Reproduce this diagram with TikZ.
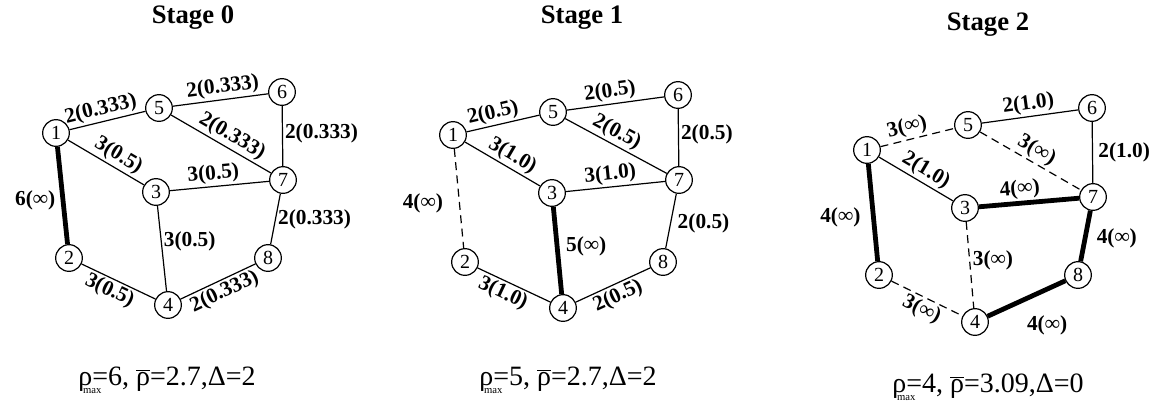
\documentclass[tikz,border=0pt]{standalone}
\usepackage{fontspec}
\setmainfont{Liberation Serif}

\newcommand{\rhomax}{ρ\makebox[0pt][c]{\raisebox{-0.3em}{\fontsize{8}{8}\selectfont max}}}
\newcommand{\rhobar}{\ensuremath{\overline{\mbox{ρ}}}}

\begin{document}
\begin{tikzpicture}[
        x=0.75pt, y=-0.75pt,
        vertex/.style={circle, draw=black, line width=0.9pt, minimum size=20pt, inner sep=0pt, fill=white, font=\fontsize{15}{15}\selectfont},
        edge/.style={line width=0.9pt},
        heavy/.style={line width=3.6pt},
        cut/.style={line width=0.9pt, dash pattern=on 6pt off 4pt},
        lbl/.style={font=\bfseries\fontsize{16}{16}\selectfont, inner sep=1.5pt},
        title/.style={font=\bfseries\fontsize{20}{20}\selectfont},
        formula/.style={font=\fontsize{21}{21}\selectfont}
    ]
    \useasboundingbox (0,0) rectangle (1168,408);

    % Stage 0
    \node (t0) [title] at (193,18) {Stage 0};
    \foreach \n/\x/\y in {1/56/133, 2/69/258, 3/156/192, 4/168/305, 5/159/108, 6/282/92, 7/283/180, 8/268/258}
        \node (a\n) [vertex] at (\x,\y) {\n};
    \draw [edge] (a1) -- node[lbl, sloped, above, pos=0.45] {2(0.333)} (a5);
    \draw [edge] (a5) -- node[lbl, sloped, above, pos=0.54] {2(0.333)} (a6);
    \draw [edge] (a5) -- node[lbl, sloped, above, pos=0.55] {2(0.333)} (a7);
    \draw [edge] (a6) -- node[lbl, right, pos=0.45] {2(0.333)} (a7);
    \draw [edge] (a1) -- node[lbl, sloped, above, pos=0.58] {3(0.5)} (a3);
    \draw [edge] (a3) -- node[lbl, sloped, above, pos=0.45] {3(0.5)} (a7);
    \draw [heavy] (a1) -- node[lbl, left, inner sep=4pt, pos=0.55] {6(∞)} (a2);
    \draw [edge] (a3) -- node[lbl, right, pos=0.42] {3(0.5)} (a4);
    \draw [edge] (a7) -- node[lbl, right, pos=0.5] {2(0.333)} (a8);
    \draw [edge] (a2) -- node[lbl, sloped, below, pos=0.45] {3(0.5)} (a4);
    \draw [edge] (a4) -- node[lbl, sloped, below, pos=0.52] {2(0.333)} (a8);
    \node (f0) [formula] at (167,380) {\rhomax=6, \rhobar=2.7,Δ=2};

    % Stage 1
    \node (t1) [title] at (582,18) {Stage 1};
    \foreach \n/\x/\y in {1/453/135, 2/465/262, 3/552/193, 4/563/308, 5/553/112, 6/678/95, 7/679/180, 8/663/262}
        \node (b\n) [vertex] at (\x,\y) {\n};
    \draw [edge] (b1) -- node[lbl, sloped, above, pos=0.4] {2(0.5)} (b5);
    \draw [edge] (b5) -- node[lbl, sloped, above, pos=0.46] {2(0.5)} (b6);
    \draw [edge] (b5) -- node[lbl, sloped, above, pos=0.45] {2(0.5)} (b7);
    \draw [edge] (b6) -- node[lbl, right, pos=0.45] {2(0.5)} (b7);
    \draw [edge] (b1) -- node[lbl, sloped, above, pos=0.55] {3(1.0)} (b3);
    \draw [edge] (b3) -- node[lbl, sloped, above, pos=0.46] {3(1.0)} (b7);
    \draw [cut] (b1) -- node[lbl, left, inner sep=12pt, pos=0.55] {4(∞)} (b2);
    \draw [heavy] (b3) -- node[lbl, right, inner sep=5pt, pos=0.45] {5(∞)} (b4);
    \draw [edge] (b7) -- node[lbl, right, inner sep=5pt, pos=0.55] {2(0.5)} (b8);
    \draw [edge] (b2) -- node[lbl, sloped, below, pos=0.42] {3(1.0)} (b4);
    \draw [edge] (b4) -- node[lbl, sloped, below, pos=0.5] {2(0.5)} (b8);
    \node (f1) [formula] at (568,380) {\rhomax=5, \rhobar=2.7,Δ=2};

    % Stage 2
    \node (t2) [title] at (988,25) {Stage 2};
    \foreach \n/\x/\y in {1/867/150, 2/879/275, 3/965/208, 4/975/322, 5/968/125, 6/1092/108, 7/1093/197, 8/1078/275}
        \node (c\n) [vertex] at (\x,\y) {\n};
    \draw [cut] (c1) -- node[lbl, sloped, above, pos=0.4] {3(∞)} (c5);
    \draw [edge] (c5) -- node[lbl, sloped, above] {2(1.0)} (c6);
    \draw [cut] (c5) -- node[lbl, sloped, above, pos=0.5] {3(∞)} (c7);
    \draw [edge] (c6) -- node[lbl, right, inner sep=4pt, pos=0.5] {2(1.0)} (c7);
    \draw [edge] (c1) -- node[lbl, sloped, above, pos=0.55] {2(1.0)} (c3);
    \draw [heavy] (c3) -- node[lbl, sloped, above, pos=0.42] {4(∞)} (c7);
    \draw [heavy] (c1) -- node[lbl, left, inner sep=8pt, pos=0.55] {4(∞)} (c2);
    \draw [cut] (c3) -- node[lbl, right, inner sep=2pt, pos=0.45] {3(∞)} (c4);
    \draw [heavy] (c7) -- node[lbl, right, inner sep=7pt, pos=0.55] {4(∞)} (c8);
    \draw [cut] (c2) -- node[lbl, sloped, below, pos=0.5] {3(∞)} (c4);
    \draw [heavy] (c4) -- node[lbl, anchor=north west, yshift=-8pt, pos=0.45] {4(∞)} (c8);
    \node (f2) [formula] at (988,387) {\rhomax=4, \rhobar=3.09,Δ=0};

\end{tikzpicture}
\end{document}
